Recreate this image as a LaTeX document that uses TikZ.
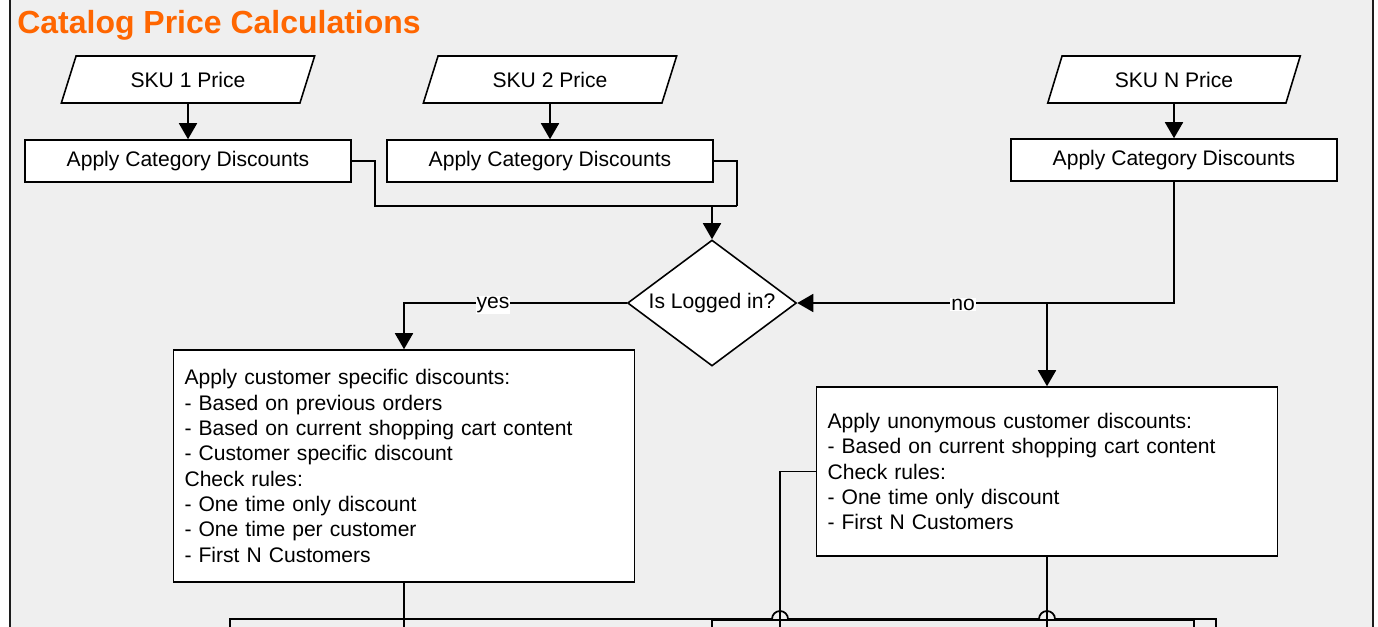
\documentclass[tikz,border=0pt]{standalone}
\usepackage{fontspec}
\setmainfont{Liberation Sans}
\usetikzlibrary{arrows.meta,calc,positioning,shapes.geometric}
\definecolor{pagegray}{RGB}{239,239,239}
\definecolor{titleorange}{RGB}{255,102,0}
\definecolor{framegray}{RGB}{28,28,28}
\tikzset{
  wire/.style={black,line width=1pt},
  flow/.style={wire,-{Triangle[length=3.2mm,width=3.6mm]}},
  block/.style={draw=black,line width=0.9pt,fill=white,inner sep=0pt,
                font=\fontsize{12}{14.4}\selectfont},
  inputbox/.style={block,trapezium,trapezium left angle=64,trapezium right angle=116,
                   trapezium stretches=true,minimum width=5.08cm,minimum height=0.94cm},
  catbox/.style={block,minimum width=6.52cm,minimum height=0.84cm},
  decision/.style={block,diamond,aspect=1.34,inner sep=1pt,
                   minimum width=3.38cm,minimum height=2.52cm},
  rulebox/.style={block,text width=8.78cm,align=left,inner xsep=0.22cm},
  branch/.style={fill=white,inner sep=0.5pt,font=\fontsize{12}{14.4}\selectfont},
}
\begin{document}
\begin{tikzpicture}[x=0.02cm,y=-0.02cm]
  \path[use as bounding box] (0,0) rectangle (1378,626);
  \fill[pagegray] (10,-10) rectangle (1373,640);
  \draw[framegray,line width=1.4pt] (10,-10) -- (10,640) (1373,-10) -- (1373,640);

  \node[font=\fontsize{18.2}{22}\selectfont\bfseries,text=titleorange,anchor=base west,inner sep=0pt]
    (title) at (17,33) {Catalog Price Calculations};

  \node[inputbox] (sku1) at (188,79.5) {SKU 1 Price};
  \node[inputbox] (sku2) at (550,79.5) {SKU 2 Price};
  \node[inputbox] (skun) at (1174,79.5) {SKU N Price};

  \node[catbox] (cat1) at (188,161) {Apply Category Discounts};
  \node[catbox] (cat2) at (550,161) {Apply Category Discounts};
  \node[catbox] (catn) at (1174,160) {Apply Category Discounts};

  \node[decision] (login) at (712,303) {Is Logged in?};

  \node[rulebox,minimum height=4.64cm] (custbox) at (404,466)
    {Apply customer specific discounts:\\
     - Based on previous orders\\
     - Based on current shopping cart content\\
     - Customer specific discount\\
     Check rules:\\
     - One time only discount\\
     - One time per customer\\
     - First N Customers};
  \node[rulebox,minimum height=3.38cm] (anonbox) at (1047,471.5)
    {Apply unonymous customer discounts:\\
     - Based on current shopping cart content\\
     Check rules:\\
     - One time only discount\\
     - First N Customers};

  \draw[flow] (sku1) -- (cat1);
  \draw[flow] (sku2) -- (cat2);
  \draw[flow] (skun) -- (catn);

  \coordinate (merge) at (737,206);
  \draw[wire] (cat1.east) -- ++(23,0) |- (merge);
  \draw[wire] (cat2.east) -| (merge);
  \draw[flow] (login.north |- merge) -- (login.north);

  \draw[flow] (login.west) -| node[branch,pos=0.3,yshift=-1pt] {yes} (custbox.north);
  \draw[flow] (catn.south) |- node[branch,pos=0.78,yshift=-1pt] {no} (login.east);
  \draw[flow] (anonbox.north |- login.east) -- (anonbox.north);

  % lower part, cut off by the page edge
  \coordinate (lowA) at (230,640);
  \coordinate (lowB) at (1216,640);
  \coordinate (lowC) at (712,640);
  \coordinate (lowD) at (1194,640);
  \draw[wire] (custbox.south) -- (custbox.south |- lowA);
  \draw[wire] (anonbox.south) -- (anonbox.south |- lowA);
  \draw[wire] (anonbox.west) -| (780,640);
  \draw[wire] (lowC) |- (1194,620) -- (lowD);
  \draw[wire] (lowA) -- (230,619) -- (772,619)
    arc[start angle=180,end angle=0,radius=0.16cm] -- (1039,619)
    arc[start angle=180,end angle=0,radius=0.16cm] -- (1216,619) -- (lowB);
\end{tikzpicture}
\end{document}
